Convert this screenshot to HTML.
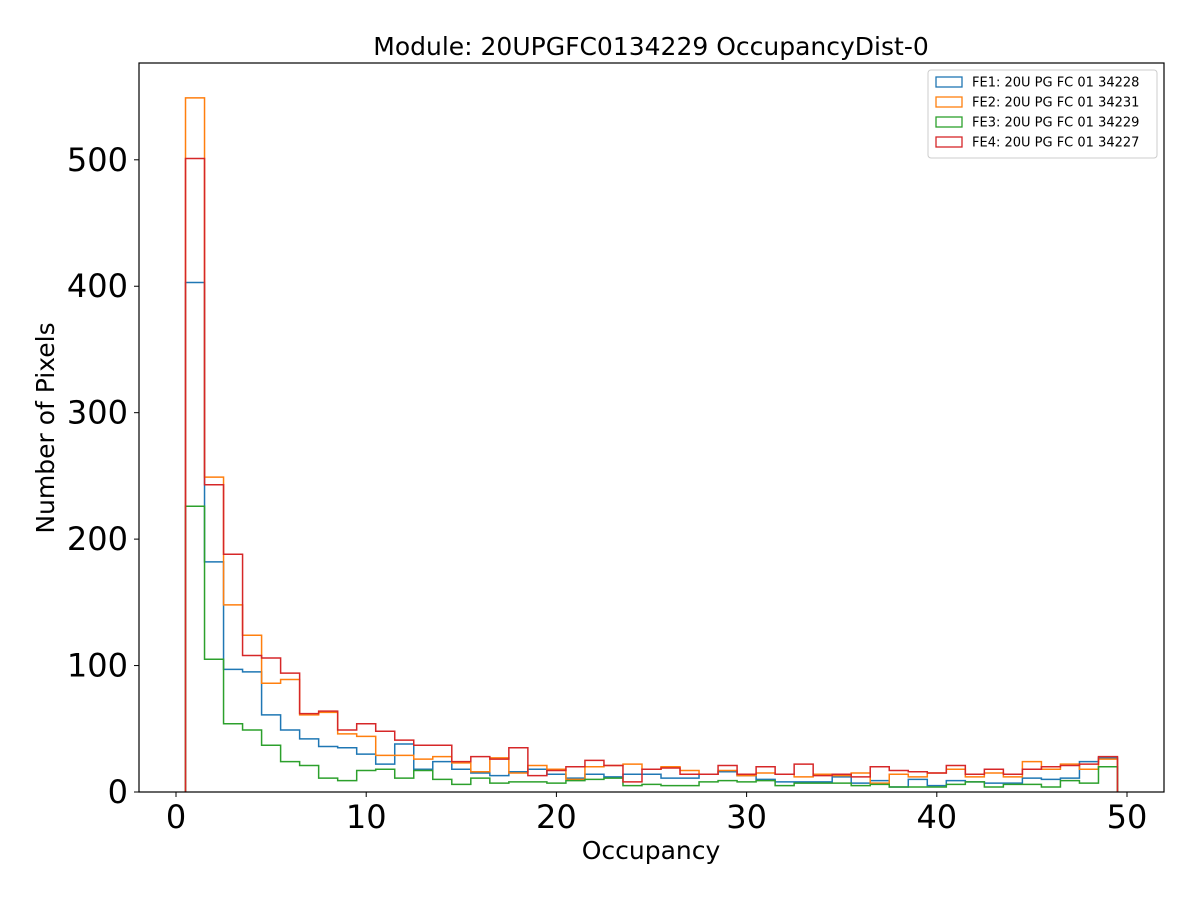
<!DOCTYPE html>
<html><head><meta charset="utf-8"><style>
body{margin:0;background:#fff;font-family:"DejaVu Sans","Liberation Sans",sans-serif;}
</style></head><body>
<svg id="chart" width="1200" height="900" xmlns="http://www.w3.org/2000/svg">
<rect width="1200" height="900" fill="#fff"/>
<text x="651" y="55" font-size="25" text-anchor="middle" font-family="DejaVu Sans, sans-serif">Module: 20UPGFC0134229 OccupancyDist-0</text>
<g id="series"></g>
<rect x="139" y="63" width="1025" height="729" fill="none" stroke="#000" stroke-width="1.2"/>
<g id="axes"></g>
<text x="651" y="859" font-size="25" text-anchor="middle">Occupancy</text>
<text transform="translate(54,428) rotate(-90)" font-size="25" text-anchor="middle">Number of Pixels</text>
<g id="legend"></g>
</svg>
<script>
const labels = ["FE1: 20U PG FC 01 34228","FE2: 20U PG FC 01 34231","FE3: 20U PG FC 01 34229","FE4: 20U PG FC 01 34227"];
const colors = ["#1f77b4","#ff7f0e","#2ca02c","#d62728"];
const binStart = 0.5;
const binWidth = 1;
const fe1 = [403,182,97,95,61,49,42,36,35,30,22,38,18,24,18,15,13,16,18,14,11,14,12,14,14,11,11,14,16,13,10,8,8,8,12,7,9,4,10,5,9,8,7,7,11,10,11,24,27];
const fe2 = [549,249,148,124,86,89,61,63,46,44,29,29,26,28,23,16,27,15,21,18,10,20,21,22,18,20,17,14,17,13,15,14,12,14,13,15,7,14,12,15,18,12,15,12,24,18,22,18,26];
const fe3 = [226,105,54,49,37,24,21,11,9,17,18,11,17,10,6,11,7,8,8,7,9,10,11,5,6,5,5,8,9,8,9,5,7,7,7,5,6,4,4,4,6,8,4,6,6,4,9,7,20];
const fe4 = [501,243,188,108,106,94,62,64,49,54,48,41,37,37,24,28,26,35,13,17,20,25,21,8,18,19,14,14,21,14,20,14,22,13,14,12,20,17,16,15,21,14,18,14,18,20,21,22,28];
const xTicks = [0,10,20,30,40,50];
const yTicks = [0,100,200,300,400,500];

const NS="http://www.w3.org/2000/svg";
const X = v => 176 + (v)*19.02;
const Y = v => 792 - v*1.2644;
const series=[fe1,fe2,fe3,fe4];
const sg=document.getElementById('series');
series.forEach((vals,si)=>{
  let d=`M${X(binStart)},${Y(0)}`;
  vals.forEach((v,i)=>{
    const x0=X(binStart+i*binWidth), x1=X(binStart+(i+1)*binWidth);
    d+=` L${x0},${Y(v)} L${x1},${Y(v)}`;
  });
  d+=` L${X(binStart+vals.length*binWidth)},${Y(0)}`;
  const p=document.createElementNS(NS,'path');
  p.setAttribute('d',d);p.setAttribute('fill','none');p.setAttribute('stroke',colors[si]);p.setAttribute('stroke-width','1.5');
  
  
  sg.appendChild(p);
});
const ax=document.getElementById('axes');
xTicks.forEach(t=>{
  const l=document.createElementNS(NS,'line');
  l.setAttribute('x1',X(t));l.setAttribute('x2',X(t));l.setAttribute('y1',792);l.setAttribute('y2',797);l.setAttribute('stroke','#000');
  
  
  ax.appendChild(l);
  const tx=document.createElementNS(NS,'text');
  tx.setAttribute('x',X(t));tx.setAttribute('y',828);tx.setAttribute('font-size','32');tx.setAttribute('text-anchor','middle');
  tx.textContent=t;
  
  
  ax.appendChild(tx);
});
yTicks.forEach(t=>{
  const l=document.createElementNS(NS,'line');
  l.setAttribute('x1',134);l.setAttribute('x2',139);l.setAttribute('y1',Y(t));l.setAttribute('y2',Y(t));l.setAttribute('stroke','#000');
  
  
  ax.appendChild(l);
  const tx=document.createElementNS(NS,'text');
  tx.setAttribute('x',128);tx.setAttribute('y',Y(t)+11);tx.setAttribute('font-size','32');tx.setAttribute('text-anchor','end');
  tx.textContent=t;
  
  
  ax.appendChild(tx);
});
const lg=document.getElementById('legend');
const box=document.createElementNS(NS,'rect');
box.setAttribute('x',928);box.setAttribute('y',70);box.setAttribute('width',229);box.setAttribute('height',88);box.setAttribute('rx',3);
box.setAttribute('fill','#fff');box.setAttribute('stroke','#ccc');


lg.appendChild(box);
labels.forEach((lab,i)=>{
  const y=82+i*20;
  const r=document.createElementNS(NS,'rect');
  r.setAttribute('x',936);r.setAttribute('y',y-5);r.setAttribute('width',26);r.setAttribute('height',10);
  r.setAttribute('fill','none');r.setAttribute('stroke',colors[i]);r.setAttribute('stroke-width','1.3');
  
  
  lg.appendChild(r);
  const t=document.createElementNS(NS,'text');
  t.setAttribute('x',972);t.setAttribute('y',y+4.5);t.setAttribute('font-size','13');
  t.textContent=lab;
  
  
  lg.appendChild(t);
});
</script>
</body></html>
